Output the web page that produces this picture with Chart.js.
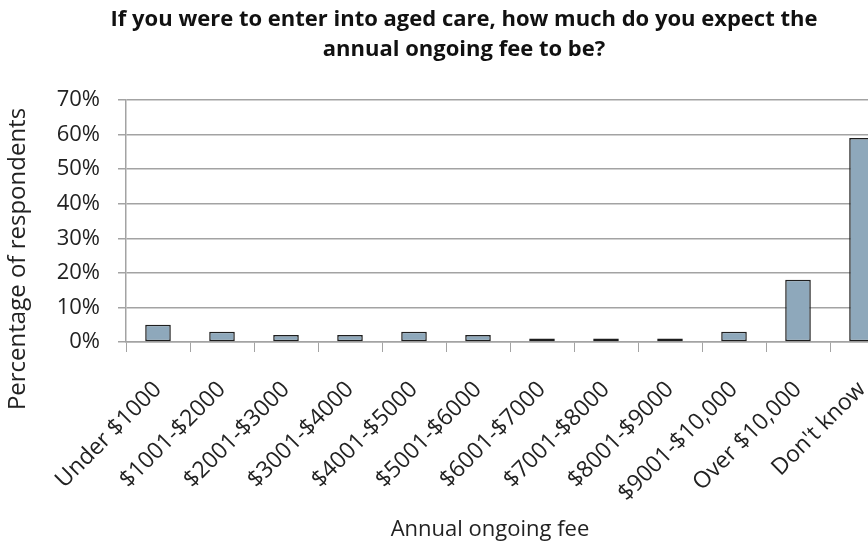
<!DOCTYPE html>
<html>
<head>
<meta charset="utf-8">
<script src="https://cdn.jsdelivr.net/npm/chart.js@4"></script>
<style>
  html, body { margin: 0; padding: 0; background: #fff; overflow: hidden; }
  #wrap { width: 928px; height: 548px; }
</style>
</head>
<body>
<div id="wrap"><canvas id="feechart" width="928" height="548"></canvas></div>
<script>
const categories = ['Under $1000', '$1001-$2000', '$2001-$3000', '$3001-$4000', '$4001-$5000',
  '$5001-$6000', '$6001-$7000', '$7001-$8000', '$8001-$9000', '$9001-$10,000',
  'Over $10,000', "Don't know"];
const percentages = [5, 3, 2, 2, 3, 2, 1, 1, 1, 3, 18, 59];
const titleLines = ['If you were to enter into aged care, how much do you expect the',
  'annual ongoing fee to be?'];
const yTitle = 'Percentage of respondents';
const xTitle = 'Annual ongoing fee';

const FONT = 'Open Sans';
const gridGrey = '#a3a3a3';

// axis titles drawn by hand so they sit where the original has them
const axisTitles = {
  id: 'axisTitles',
  afterDraw(chart) {
    const c = chart.ctx;
    c.save();
    c.fillStyle = '#222';
    c.textAlign = 'center';
    c.textBaseline = 'middle';
    c.font = '22px "' + FONT + '"';
    c.fillText(xTitle, 490, 530);
    c.font = '24px "' + FONT + '"';
    c.translate(18, 259);
    c.rotate(-Math.PI / 2);
    c.fillText(yTitle, 0, 0);
    c.restore();
  }
};

const ctx = document.getElementById('feechart');

new Chart(ctx, {
  type: 'bar',
  data: {
    labels: categories,
    datasets: [
      {
        label: 'Respondents',
        data: percentages,
        backgroundColor: '#8ea8bb',
        borderColor: '#1e1e1e',
        borderWidth: 1.5,
        borderSkipped: false,
        barPercentage: 0.4,
        categoryPercentage: 1.0,
      }
    ]
  },
  options: {
    responsive: false,
    animation: false,
    plugins: {
      legend: { display: false },
      tooltip: { enabled: false },
      title: {
        display: true,
        text: titleLines,
        color: '#111',
        font: { family: FONT, size: 22, weight: 'bold', lineHeight: 30 / 22 },
        padding: { top: 5, bottom: 35 }
      }
    },
    scales: {
      x: {
        grid: {
          drawOnChartArea: false,
          color: gridGrey,
          tickLength: 10,
        },
        border: { color: gridGrey, width: 1.5 },
        ticks: {
          autoSkip: false,
          maxRotation: 45,
          minRotation: 45,
          padding: 24,
          color: '#222',
          font: { family: FONT, size: 23 }
        },
        afterFit(scale) { scale.height = 206; }
      },
      y: {
        min: 0,
        max: 70,
        grid: {
          color: gridGrey,
          lineWidth: 1.5,
          tickLength: 8,
        },
        border: { color: gridGrey, width: 1.5 },
        ticks: {
          stepSize: 10,
          padding: 18,
          color: '#222',
          font: { family: FONT, size: 22 },
          callback: (v) => v + '%'
        },
        afterFit(scale) { scale.width = 126; }
      },
      // empty right-hand axis, only keeps the margin right of the plot
      yRight: {
        position: 'right',
        min: 0,
        max: 70,
        grid: { display: false },
        border: { display: false },
        ticks: { display: false },
        afterFit(scale) { scale.width = 34; }
      }
    }
  },
  plugins: [axisTitles]
});
</script>
</body>
</html>
